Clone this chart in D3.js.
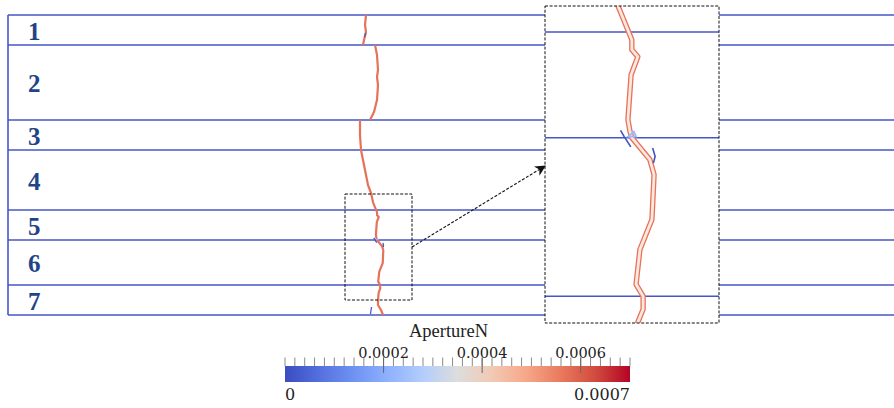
<!DOCTYPE html>
<html>
<head>
<meta charset="utf-8">
<script src="https://cdn.jsdelivr.net/npm/d3@7"></script>
<style>
	html, body { margin: 0; padding: 0; background: #fff; }
	svg { display: block; }
</style>
</head>
<body>
<div id="chart"></div>
<script>
// Layer stack (depth units, 0 = top of the model)
const layerNames = ["1", "2", "3", "4", "5", "6", "7"];
const layerBounds = [0, 30, 105, 135, 195, 225, 270, 300];

// Fracture trace, [horizontal distance, depth], one array per connected piece
const fractureA = [[358, 0], [357, 10], [358, 17], [356, 25], [355, 30]];
const fractureB = [[367, 30], [369, 40], [370, 55], [369, 62], [370, 70], [369, 85], [366, 97], [362, 105]];
const fractureC = [
	[352, 105], [352, 120], [353, 135], [355, 145], [358, 160], [360, 170], [363, 178],
	[365.1, 187.6], [369, 197.2], [369, 200], [370.7, 202], [368.8, 207.1], [367.9, 219.9],
	[368.5, 223.3], [369, 225], [374.1, 231.2], [375.3, 235.5], [374.7, 248.2], [371.3, 256.7],
	[370.2, 266.6], [372.2, 270], [372.2, 273.7], [370.7, 277.4], [370, 285], [370, 290],
	[373, 295], [375, 300]
];
const fractureAperture = 0.00057;

// Low aperture pieces (blue) and the small closed loop at the interface
const lowPieces = [
	[[357.5, 18], [356.5, 22]],
	[[365.8, 222.9], [366.8, 224.6], [368.7, 227.6]],
	[[374.9, 227.9], [375.6, 230.3], [375.1, 232.2]],
	[[363.5, 292], [362.5, 299]]
];
const lowAperture = 0.00001;
const loopPiece = [[367.9, 224.7], [369.6, 223.3], [370.2, 224.7]];
const loopAperture = 0.00023;

// Zoomed window (data units) and the dashed box drawn on the model
const zoomX = [344.4, 393.7];
const zoomY = [187.6, 277.6];
const zoomBox = { x0: 337, x1: 404, y0: 179, y1: 285 };

// Colour bar
const barTitle = "ApertureN";
const barDomain = [0, 0.0007];
const barMajorTicks = [0.0002, 0.0004, 0.0006];
const barMinorStep = 0.00002;
const coolWarmStops = ["#3b4cc0", "#5470de", "#6f92f3", "#8fb1fe", "#b3cdfb", "#dcdddd",
	"#f2c9b4", "#f6a789", "#e9795d", "#d14b3e", "#b40426"];

const width = 894;
const height = 408;

const svg = d3.select("#chart")
	.append("svg")
	.attr("width", width)
	.attr("height", height);

const x = d3.scaleLinear().domain([0, 886]).range([8, 894]);
const y = d3.scaleLinear().domain([0, 300]).range([15, 315]);

const color = d3.scaleLinear()
	.domain(coolWarmStops.map((c, i) => barDomain[0] + (barDomain[1] - barDomain[0]) * i / (coolWarmStops.length - 1)))
	.range(coolWarmStops)
	.interpolate(d3.interpolateRgb);

const lineBlue = "#4656c6";

function drawTraces(g, xs, ys, inset) {
	const line = d3.line().x(d => xs(d[0])).y(d => ys(d[1])).curve(d3.curveLinear);
	const pieces = [fractureA, fractureB, fractureC];
	if (inset) {
		g.selectAll("path.frac-outer").data(pieces).join("path")
			.attr("class", "frac-outer")
			.attr("d", line)
			.style("fill", "none")
			.style("stroke", color(fractureAperture))
			.style("stroke-width", 5.4)
			.style("stroke-linejoin", "round");
		g.selectAll("path.frac-inner").data(pieces).join("path")
			.attr("class", "frac-inner")
			.attr("d", line)
			.style("fill", "none")
			.style("stroke", "#fce8de")
			.style("stroke-width", 2.8)
			.style("stroke-linejoin", "round");
	} else {
		g.selectAll("path.frac").data(pieces).join("path")
			.attr("class", "frac")
			.attr("d", line)
			.style("fill", "none")
			.style("stroke", color(fractureAperture))
			.style("stroke-width", 2.2)
			.style("stroke-linejoin", "round");
	}
	g.selectAll("path.low").data(lowPieces).join("path")
		.attr("class", "low")
		.attr("d", line)
		.style("fill", "none")
		.style("stroke", color(lowAperture))
		.style("stroke-width", inset ? 1.6 : 1.2);
	g.append("path")
		.datum(loopPiece)
		.attr("d", d3.line().x(d => xs(d[0])).y(d => ys(d[1])).curve(d3.curveLinearClosed))
		.style("fill", "none")
		.style("stroke", color(loopAperture))
		.style("stroke-width", inset ? 1.8 : 1);
}

// Model panel
const main = svg.append("g");

main.selectAll("line.bound")
	.data(layerBounds)
	.join("line")
	.attr("class", "bound")
	.attr("x1", x(0)).attr("x2", x(886))
	.attr("y1", d => y(d)).attr("y2", d => y(d))
	.style("stroke", lineBlue)
	.style("stroke-width", 1.6);

main.append("line")
	.attr("x1", x(0)).attr("x2", x(0))
	.attr("y1", y(0)).attr("y2", y(300))
	.style("stroke", lineBlue)
	.style("stroke-width", 1.6);

main.selectAll("text.layer")
	.data(layerNames)
	.join("text")
	.attr("class", "layer")
	.attr("x", 28)
	.attr("y", (d, i) => (y(layerBounds[i]) + y(layerBounds[i + 1])) / 2 + 9.5)
	.style("font-family", "'Liberation Serif', 'DejaVu Serif', serif")
	.style("font-weight", "bold")
	.style("font-size", "25px")
	.style("fill", "#1f4488")
	.text(d => d);

drawTraces(main, x, y, false);

main.append("rect")
	.attr("x", x(zoomBox.x0))
	.attr("y", y(zoomBox.y0))
	.attr("width", x(zoomBox.x1) - x(zoomBox.x0))
	.attr("height", y(zoomBox.y1) - y(zoomBox.y0))
	.style("fill", "none")
	.style("stroke", "#111")
	.style("stroke-width", 1)
	.style("stroke-dasharray", "3,1.6");

// Zoomed inset
const insetLeft = 545, insetRight = 719, insetTop = 6, insetBottom = 323;
const ix = d3.scaleLinear().domain(zoomX).range([insetLeft, insetRight]);
const iy = d3.scaleLinear().domain(zoomY).range([insetTop, insetBottom]);

svg.append("defs")
	.append("clipPath")
	.attr("id", "inset-clip")
	.append("rect")
	.attr("x", insetLeft).attr("y", insetTop)
	.attr("width", insetRight - insetLeft)
	.attr("height", insetBottom - insetTop);

svg.append("rect")
	.attr("x", insetLeft).attr("y", insetTop)
	.attr("width", insetRight - insetLeft)
	.attr("height", insetBottom - insetTop)
	.style("fill", "#fff");

const inset = svg.append("g").attr("clip-path", "url(#inset-clip)");

inset.selectAll("line.bound")
	.data(layerBounds.filter(d => d > zoomY[0] && d < zoomY[1]))
	.join("line")
	.attr("class", "bound")
	.attr("x1", insetLeft).attr("x2", insetRight)
	.attr("y1", d => iy(d)).attr("y2", d => iy(d))
	.style("stroke", lineBlue)
	.style("stroke-width", 1.6);

drawTraces(inset, ix, iy, true);

svg.append("rect")
	.attr("x", insetLeft).attr("y", insetTop)
	.attr("width", insetRight - insetLeft)
	.attr("height", insetBottom - insetTop)
	.style("fill", "none")
	.style("stroke", "#111")
	.style("stroke-width", 1)
	.style("stroke-dasharray", "3,1.6");

// Arrow from the dashed box to the inset
svg.select("defs")
	.append("marker")
	.attr("id", "arrow")
	.attr("viewBox", "0 0 10 10")
	.attr("refX", 9).attr("refY", 5)
	.attr("markerWidth", 11).attr("markerHeight", 11)
	.attr("markerUnits", "userSpaceOnUse")
	.attr("orient", "auto")
	.append("path")
	.attr("d", "M0,0 L10,5 L0,10 L3,5 Z")
	.style("fill", "#111");

svg.append("line")
	.attr("x1", x(zoomBox.x1)).attr("y1", y(232))
	.attr("x2", insetLeft).attr("y2", 166)
	.style("stroke", "#111")
	.style("stroke-width", 1.1)
	.style("stroke-dasharray", "3,1.6")
	.attr("marker-end", "url(#arrow)");

// Colour bar
const barLeft = 285, barRight = 630, barTop = 366, barHeight = 16;
const bx = d3.scaleLinear().domain(barDomain).range([barLeft, barRight]);

const grad = svg.select("defs")
	.append("linearGradient")
	.attr("id", "coolwarm")
	.attr("x1", "0%").attr("x2", "100%");
grad.selectAll("stop")
	.data(color.domain())
	.join("stop")
	.attr("offset", d => `${(d - barDomain[0]) / (barDomain[1] - barDomain[0]) * 100}%`)
	.attr("stop-color", d => color(d));

svg.append("rect")
	.attr("x", barLeft).attr("y", barTop)
	.attr("width", barRight - barLeft)
	.attr("height", barHeight)
	.style("fill", "url(#coolwarm)");

const minorTicks = d3.range(0, Math.round(barDomain[1] / barMinorStep) + 1).map(i => i * barMinorStep);
svg.selectAll("line.minor")
	.data(minorTicks)
	.join("line")
	.attr("class", "minor")
	.attr("x1", d => bx(d)).attr("x2", d => bx(d))
	.attr("y1", barTop - 8.5).attr("y2", barTop)
	.style("stroke", "#8a8a8a")
	.style("stroke-width", 1);

svg.selectAll("line.major")
	.data(barMajorTicks)
	.join("line")
	.attr("class", "major")
	.attr("x1", d => bx(d)).attr("x2", d => bx(d))
	.attr("y1", barTop - 8.5).attr("y2", barTop + 7)
	.style("stroke", "#666")
	.style("stroke-width", 1);

svg.selectAll("text.major")
	.data(barMajorTicks)
	.join("text")
	.attr("class", "major")
	.attr("x", d => bx(d))
	.attr("y", 358)
	.style("text-anchor", "middle")
	.style("font-family", "'DejaVu Serif', serif")
	.style("font-size", "14.5px")
	.style("fill", "#222")
	.text(d => d.toFixed(4));

svg.append("text")
	.attr("x", (barLeft + barRight) / 2 - 9)
	.attr("y", 337)
	.style("text-anchor", "middle")
	.style("font-family", "'Liberation Serif', serif")
	.style("font-size", "18.5px")
	.style("fill", "#222")
	.text(barTitle);

svg.append("text")
	.attr("x", barLeft)
	.attr("y", 400)
	.style("font-family", "'DejaVu Serif', serif")
	.style("font-size", "16px")
	.style("fill", "#222")
	.text(String(barDomain[0]));

svg.append("text")
	.attr("x", barRight)
	.attr("y", 400)
	.style("text-anchor", "end")
	.style("font-family", "'DejaVu Serif', serif")
	.style("font-size", "16px")
	.style("fill", "#222")
	.text(barDomain[1].toFixed(4));
</script>
</body>
</html>
